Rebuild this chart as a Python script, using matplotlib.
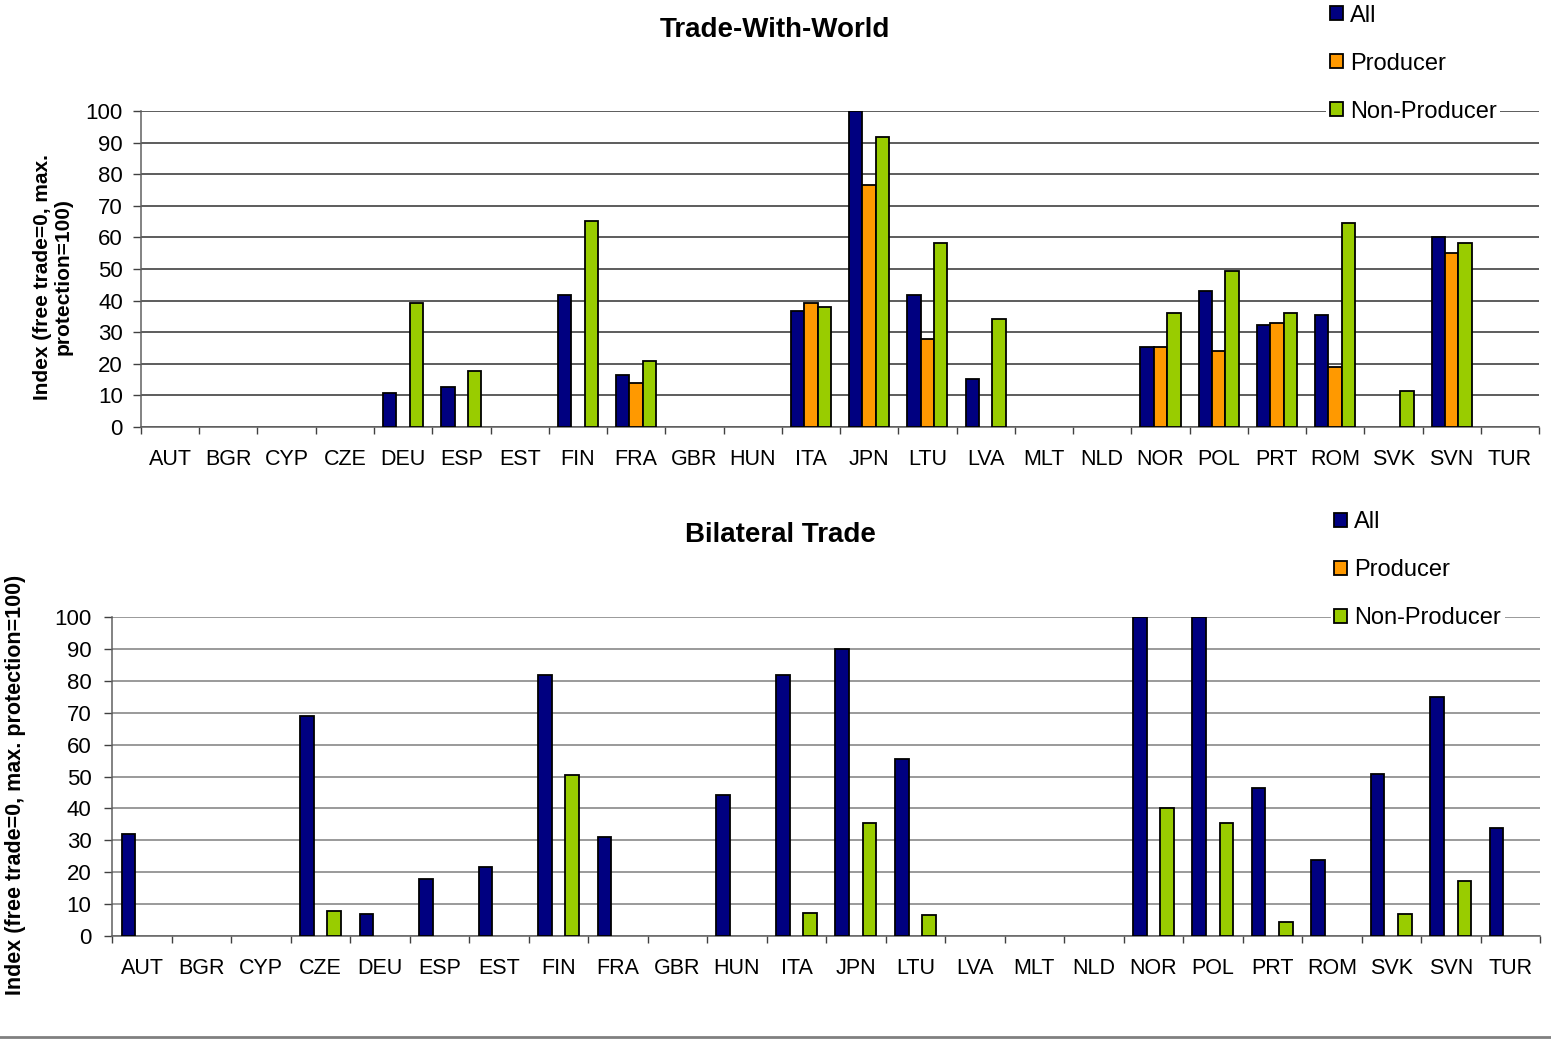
import numpy as np
import matplotlib
matplotlib.use("Agg")
import matplotlib.pyplot as plt
from matplotlib.lines import Line2D

plt.rcParams['font.family'] = ['Liberation Sans', 'DejaVu Sans']

countries = ['AUT', 'BGR', 'CYP', 'CZE', 'DEU', 'ESP', 'EST', 'FIN', 'FRA', 'GBR',
             'HUN', 'ITA', 'JPN', 'LTU', 'LVA', 'MLT', 'NLD', 'NOR', 'POL', 'PRT',
             'ROM', 'SVK', 'SVN', 'TUR']
series_names = ['All', 'Producer', 'Non-Producer']
colors = ['#000080', '#FF9900', '#99CC00']

# trade with world (0 = no bar)
world_all = [0, 0, 0, 0, 10.9, 12.8, 0, 41.9, 16.5, 0, 0, 36.8, 100, 41.9, 15.3,
             0, 0, 25.3, 43.1, 32.3, 35.5, 0, 60.2, 0]
world_prod = [0, 0, 0, 0, 0, 0, 0, 0, 13.8, 0, 0, 39.2, 76.5, 27.8, 0,
              0, 0, 25.3, 24.0, 33.0, 19.1, 0, 55.1, 0]
world_nonprod = [0, 0, 0, 0, 39.3, 17.8, 0, 65.2, 21.0, 0, 0, 38.0, 91.9, 58.3, 34.2,
                 0, 0, 36.2, 49.4, 36.2, 64.6, 11.4, 58.3, 0]

# bilateral trade
bil_all = [31.9, 0, 0, 68.9, 6.8, 18.0, 21.7, 81.9, 31.1, 0, 44.3, 81.9, 90.1, 55.6, 0,
           0, 0, 100, 100, 46.3, 23.7, 50.7, 75.0, 33.8]
bil_prod = [0] * 24
bil_nonprod = [0, 0, 0, 7.9, 0, 0, 0, 50.6, 0, 0, 0, 7.3, 35.5, 6.7, 0,
               0, 0, 40.0, 35.5, 4.3, 0, 6.8, 17.3, 0]

fig = plt.figure(figsize=(15.51, 10.40), dpi=100)


def draw_panel(rect, title, title_xy, data, grid_color, ytick_pad, legend_anchor):
    ax = fig.add_axes(rect)
    x = np.arange(len(countries))
    w = 0.23
    handles = []
    for k, (vals, name, c) in enumerate(zip(data, series_names, colors)):
        v = np.array(vals, dtype=float)
        v = np.where(v > 0, v, np.nan)
        b = ax.bar(x + (k - 1) * w, v, width=w, color=c, edgecolor='black',
                   linewidth=1.3, label=name, zorder=3)
        handles.append(b)
    ax.set_xlim(-0.5, len(countries) - 0.5)
    ax.set_ylim(0, 100)
    ax.set_yticks(np.arange(0, 101, 10))
    ax.yaxis.grid(True, color=grid_color, linewidth=1.1, zorder=0)
    ax.set_axisbelow(True)
    ax.set_xticks(np.arange(-0.5, len(countries), 1))
    ax.set_xticklabels([])
    ax.set_xticks(x, minor=True)
    ax.set_xticklabels(countries, minor=True, fontsize=15.5)
    ax.tick_params(axis='x', which='major', length=5, width=1, color='#404040', direction='out')
    ax.tick_params(axis='x', which='minor', length=0, pad=16)
    ax.tick_params(axis='y', length=6, width=1, color='#404040', labelsize=16, pad=ytick_pad)
    for s in ['top', 'right']:
        ax.spines[s].set_visible(False)
    for s in ['left', 'bottom']:
        ax.spines[s].set_color('#606060')
        ax.spines[s].set_linewidth(1.1)
    fig.text(title_xy[0], title_xy[1], title, ha='center', va='center',
             fontsize=20, fontweight='bold')
    leg = fig.legend(handles=handles, loc='upper left', bbox_to_anchor=legend_anchor,
                     fontsize=17, frameon=True, edgecolor='none', facecolor='white',
                     framealpha=1, handlelength=0.55, handleheight=0.55,
                     handletextpad=0.3, labelspacing=1.1, borderpad=0.15,
                     borderaxespad=0, fancybox=False)
    leg.set_zorder(5)
    return ax


ax1 = draw_panel([0.0909, 0.5894, 0.9014, 0.3038], 'Trade-With-World',
                 (775 / 1551, 1 - 30 / 1040),
                 [world_all, world_prod, world_nonprod], '#303030', 7,
                 (0.855, 0.999))
ax2 = draw_panel([0.0725, 0.1000, 0.9204, 0.3067], 'Bilateral Trade',
                 (780 / 1551, 1 - 535 / 1040),
                 [bil_all, bil_prod, bil_nonprod], '#7f7f7f', 9,
                 (0.858, 0.512))

fig.text(0.034, 1 - 277 / 1040, 'Index (free trade=0, max.\nprotection=100)',
         rotation=90, ha='center', va='center', fontsize=15, fontweight='bold',
         linespacing=1.1)
fig.text(0.010, 1 - 785 / 1040, 'Index (free trade=0, max. protection=100)',
         rotation=90, ha='center', va='center', fontsize=15.5, fontweight='bold')

fig.add_artist(Line2D([0, 1], [1 - 1037 / 1040] * 2, color='#808080', linewidth=2))

fig.savefig('out.png', dpi=100)
